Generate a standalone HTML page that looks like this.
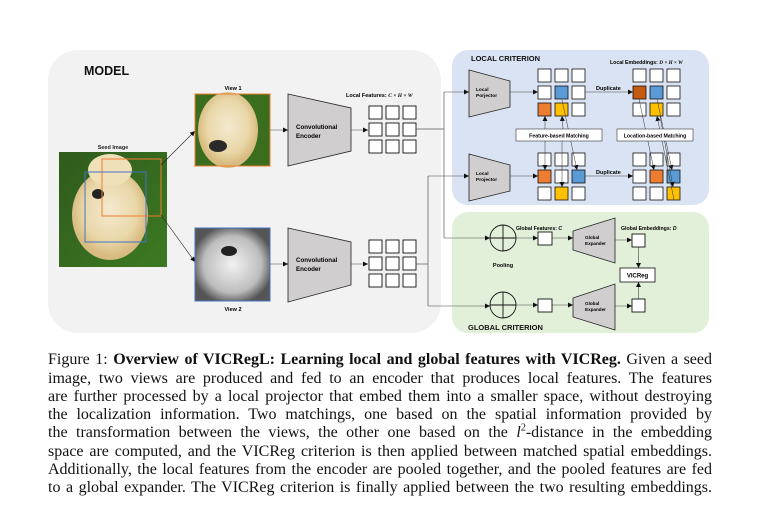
<!DOCTYPE html>
<html><head><meta charset="utf-8"><style>
body{margin:0;background:#fff;width:759px;height:512px;overflow:hidden;position:relative;font-family:"Liberation Sans",sans-serif}
svg{position:absolute;left:0;top:0}
.cap{position:absolute;left:48px;width:664px;font-family:"Liberation Serif",serif;font-size:16px;color:#111;text-align:justify;text-align-last:justify;white-space:nowrap;line-height:18px;height:18px}
.cap.nj{text-align-last:left}
</style></head><body>
<svg width="759" height="345" viewBox="0 0 759 345" font-family="Liberation Sans, sans-serif">
<defs>
<marker id="a" markerWidth="6" markerHeight="6" refX="5" refY="3" orient="auto" markerUnits="userSpaceOnUse"><path d="M0,0.5 L5,3 L0,5.5z" fill="#111"/></marker>
<linearGradient id="g1" x1="0" y1="0" x2="1" y2="1"><stop offset="0" stop-color="#2f5a1c"/><stop offset="1" stop-color="#3d7a22"/></linearGradient>
<radialGradient id="dog" cx="0.5" cy="0.45" r="0.5"><stop offset="0" stop-color="#f4ead0"/><stop offset="0.7" stop-color="#e9d7a8"/><stop offset="1" stop-color="#d8bb80"/></radialGradient>
<radialGradient id="dogg" cx="0.5" cy="0.5" r="0.55"><stop offset="0" stop-color="#f2f2f2"/><stop offset="0.7" stop-color="#bdbdbd"/><stop offset="1" stop-color="#555"/></radialGradient>
</defs>
<rect x="48" y="50" width="393" height="283" rx="30" fill="#f2f2f2"/>
<rect x="452" y="50" width="257" height="155" rx="16" fill="#dae3f3"/>
<rect x="452" y="212" width="257" height="121" rx="16" fill="#e2f0d9"/>
<text x="84" y="75" font-size="12.5" font-weight="bold" fill="#111">MODEL</text>
<text x="471" y="61" font-size="7.5" font-weight="bold" fill="#111">LOCAL CRITERION</text>
<text x="468" y="330" font-size="7.5" font-weight="bold" fill="#111">GLOBAL CRITERION</text>
<!-- seed image -->
<text x="113" y="149" font-size="5.5" font-weight="bold" text-anchor="middle" fill="#222">Seed Image</text>
<rect x="59" y="152" width="108" height="115" fill="url(#g1)"/>
<ellipse cx="110" cy="215" rx="38" ry="45" fill="url(#dog)"/>
<ellipse cx="110" cy="170" rx="22" ry="16" fill="#f0e0b8"/>
<ellipse cx="98" cy="194" rx="6" ry="5" fill="#222"/>
<rect x="102" y="159" width="59" height="57" fill="none" stroke="#ed7d31" stroke-width="1"/>
<rect x="85" y="172" width="61" height="70" fill="none" stroke="#4472c4" stroke-width="1"/>
<line x1="161" y1="165" x2="195" y2="131" stroke="#222" stroke-width="0.6" marker-end="url(#a)"/>
<line x1="161" y1="215" x2="195" y2="262" stroke="#222" stroke-width="0.6" marker-end="url(#a)"/>
<!-- views -->
<text x="233" y="90" font-size="5.5" font-weight="bold" text-anchor="middle">View 1</text>
<rect x="195" y="94" width="75" height="72" fill="#3b6d1f"/>
<ellipse cx="228" cy="130" rx="30" ry="38" fill="url(#dog)"/>
<ellipse cx="218" cy="146" rx="9" ry="6" fill="#2a2a2a"/>
<rect x="195" y="94" width="75" height="72" fill="none" stroke="#ed7d31" stroke-width="1"/>
<rect x="195" y="228" width="75" height="73" fill="url(#dogg)"/>
<ellipse cx="229" cy="251" rx="8" ry="5" fill="#222"/>
<rect x="195" y="228" width="75" height="73" fill="none" stroke="#4472c4" stroke-width="1"/>
<text x="233" y="311" font-size="5.5" font-weight="bold" text-anchor="middle">View 2</text>
<line x1="270" y1="130" x2="288" y2="130" stroke="#444" stroke-width="0.6" marker-end="url(#a)"/>
<line x1="270" y1="264" x2="288" y2="264" stroke="#444" stroke-width="0.6" marker-end="url(#a)"/>
<!-- encoders -->
<polygon points="288,94 351,108 351,151 288,166" fill="#d0cece" stroke="#222" stroke-width="0.8"/>
<text x="296" y="129" font-size="6.2" font-weight="bold">Convolutional</text><text x="296" y="138" font-size="6.2" font-weight="bold">Encoder</text>
<polygon points="288,228 351,242 351,285 288,302" fill="#d0cece" stroke="#222" stroke-width="0.8"/>
<text x="296" y="262" font-size="6.2" font-weight="bold">Convolutional</text><text x="296" y="271" font-size="6.2" font-weight="bold">Encoder</text>
<line x1="351" y1="130" x2="368" y2="130" stroke="#444" stroke-width="0.6" marker-end="url(#a)"/>
<line x1="351" y1="264" x2="368" y2="264" stroke="#444" stroke-width="0.6" marker-end="url(#a)"/>
<text x="346" y="97" font-size="5.5" font-weight="bold">Local Features: <tspan font-family="Liberation Serif" font-style="italic">C × H × W</tspan></text>
<g fill="#fff" stroke="#111" stroke-width="0.9">
<rect x="369" y="106" width="13" height="13"/><rect x="386" y="106" width="13" height="13"/><rect x="403" y="106" width="13" height="13"/>
<rect x="369" y="123" width="13" height="13"/><rect x="386" y="123" width="13" height="13"/><rect x="403" y="123" width="13" height="13"/>
<rect x="369" y="140" width="13" height="13"/><rect x="386" y="140" width="13" height="13"/><rect x="403" y="140" width="13" height="13"/>
<rect x="369" y="240" width="13" height="13"/><rect x="386" y="240" width="13" height="13"/><rect x="403" y="240" width="13" height="13"/>
<rect x="369" y="257" width="13" height="13"/><rect x="386" y="257" width="13" height="13"/><rect x="403" y="257" width="13" height="13"/>
<rect x="369" y="274" width="13" height="13"/><rect x="386" y="274" width="13" height="13"/><rect x="403" y="274" width="13" height="13"/>
</g>
<!-- connectors -->
<g fill="none" stroke="#555" stroke-width="0.7">
<polyline points="416,129 444,129"/><line x1="444" y1="92" x2="444" y2="238"/>
<polyline points="416,264 428,264"/><line x1="428" y1="176" x2="428" y2="306"/>
</g>
<g stroke="#444" stroke-width="0.6">
<line x1="444" y1="92" x2="469" y2="92" marker-end="url(#a)"/>
<line x1="444" y1="238" x2="490" y2="238" marker-end="url(#a)"/>
<line x1="428" y1="176" x2="469" y2="176" marker-end="url(#a)"/>
<line x1="428" y1="306" x2="490" y2="306" marker-end="url(#a)"/>
</g>
<!-- projectors -->
<polygon points="469,70 510,81 510,107 469,117" fill="#d0cece" stroke="#222" stroke-width="0.8"/>
<text x="476" y="91" font-size="4.8" font-weight="bold">Local</text><text x="476" y="97" font-size="4.8" font-weight="bold">Porjector</text>
<polygon points="469,154 510,165 510,191 469,201" fill="#d0cece" stroke="#222" stroke-width="0.8"/>
<text x="476" y="175" font-size="4.8" font-weight="bold">Local</text><text x="476" y="181" font-size="4.8" font-weight="bold">Projector</text>
<line x1="510" y1="92" x2="538" y2="92" stroke="#444" stroke-width="0.6" marker-end="url(#a)"/>
<line x1="510" y1="176" x2="538" y2="176" stroke="#444" stroke-width="0.6" marker-end="url(#a)"/>
<text x="610" y="64" font-size="5.2" font-weight="bold">Local Embeddings: <tspan font-family="Liberation Serif" font-style="italic">D × H × W</tspan></text>
<g stroke="#111" stroke-width="0.8">
<!-- grid A -->
<rect x="538" y="69" width="13" height="13" fill="#fff"/><rect x="555" y="69" width="13" height="13" fill="#fff"/><rect x="572" y="69" width="13" height="13" fill="#fff"/>
<rect x="538" y="86" width="13" height="13" fill="#fff"/><rect x="555" y="86" width="13" height="13" fill="#5b9bd5"/><rect x="572" y="86" width="13" height="13" fill="#fff"/>
<rect x="538" y="103" width="13" height="13" fill="#ed7d31"/><rect x="555" y="103" width="13" height="13" fill="#ffc000"/><rect x="572" y="103" width="13" height="13" fill="#fff"/>
<!-- grid B -->
<rect x="633" y="69" width="13" height="13" fill="#fff"/><rect x="650" y="69" width="13" height="13" fill="#fff"/><rect x="667" y="69" width="13" height="13" fill="#fff"/>
<rect x="633" y="86" width="13" height="13" fill="#c55a11"/><rect x="650" y="86" width="13" height="13" fill="#5b9bd5"/><rect x="667" y="86" width="13" height="13" fill="#fff"/>
<rect x="633" y="103" width="13" height="13" fill="#fff"/><rect x="650" y="103" width="13" height="13" fill="#ffc000"/><rect x="667" y="103" width="13" height="13" fill="#fff"/>
<!-- grid C -->
<rect x="538" y="153" width="13" height="13" fill="#fff"/><rect x="555" y="153" width="13" height="13" fill="#fff"/><rect x="572" y="153" width="13" height="13" fill="#fff"/>
<rect x="538" y="170" width="13" height="13" fill="#ed7d31"/><rect x="555" y="170" width="13" height="13" fill="#fff"/><rect x="572" y="170" width="13" height="13" fill="#5b9bd5"/>
<rect x="538" y="187" width="13" height="13" fill="#fff"/><rect x="555" y="187" width="13" height="13" fill="#ffc000"/><rect x="572" y="187" width="13" height="13" fill="#fff"/>
<!-- grid D -->
<rect x="633" y="153" width="13" height="13" fill="#fff"/><rect x="650" y="153" width="13" height="13" fill="#fff"/><rect x="667" y="153" width="13" height="13" fill="#fff"/>
<rect x="633" y="170" width="13" height="13" fill="#fff"/><rect x="650" y="170" width="13" height="13" fill="#ed7d31"/><rect x="667" y="170" width="13" height="13" fill="#5b9bd5"/>
<rect x="633" y="187" width="13" height="13" fill="#fff"/><rect x="650" y="187" width="13" height="13" fill="#fff"/><rect x="667" y="187" width="13" height="13" fill="#ffc000"/>
</g>
<line x1="585" y1="92" x2="633" y2="92" stroke="#444" stroke-width="0.6" marker-end="url(#a)"/>
<line x1="585" y1="176" x2="633" y2="176" stroke="#444" stroke-width="0.6" marker-end="url(#a)"/>
<text x="596" y="90" font-size="5.5" font-weight="bold">Duplicate</text>
<text x="596" y="174" font-size="5.5" font-weight="bold">Duplicate</text>
<g stroke="#333" stroke-width="0.5" marker-end="url(#a)">
<line x1="545" y1="129" x2="545" y2="116"/><line x1="545" y1="141" x2="545" y2="170"/>
<line x1="562" y1="141" x2="562" y2="187"/><line x1="563" y1="129" x2="562" y2="116"/>
<line x1="562" y1="100" x2="577" y2="170"/>
<line x1="639" y1="99" x2="654" y2="170"/><line x1="657" y1="99" x2="672" y2="170"/>
<line x1="660" y1="116" x2="673" y2="187"/><line x1="674" y1="200" x2="657" y2="116"/>
</g>
<rect x="516" y="129" width="86" height="12" fill="#fff" stroke="#333" stroke-width="0.6"/>
<text x="559" y="137.5" font-size="5.2" font-weight="bold" text-anchor="middle">Feature-based Matching</text>
<rect x="617" y="129" width="76" height="12" fill="#fff" stroke="#333" stroke-width="0.6"/>
<text x="655" y="137.5" font-size="5.2" font-weight="bold" text-anchor="middle">Location-based Matching</text>
<!-- global -->
<g fill="none" stroke="#111" stroke-width="0.9">
<circle cx="503" cy="238" r="13"/><line x1="490" y1="238" x2="516" y2="238"/><line x1="503" y1="225" x2="503" y2="251"/>
<circle cx="503" cy="305" r="13"/><line x1="490" y1="305" x2="516" y2="305"/><line x1="503" y1="292" x2="503" y2="318"/>
</g>
<text x="503" y="267" font-size="5.5" font-weight="bold" text-anchor="middle">Pooling</text>
<text x="516" y="230" font-size="5.2" font-weight="bold">Global Features: <tspan font-style="italic">C</tspan></text>
<text x="621" y="230" font-size="5.2" font-weight="bold">Global Embeddings: <tspan font-style="italic">D</tspan></text>
<g stroke="#444" stroke-width="0.6" marker-end="url(#a)">
<line x1="516" y1="238" x2="538" y2="238"/><line x1="516" y1="305" x2="538" y2="305"/>
<line x1="552" y1="238" x2="573" y2="238"/><line x1="552" y1="305" x2="573" y2="305"/>
<line x1="615" y1="240" x2="632" y2="240"/><line x1="615" y1="306" x2="632" y2="306"/>
<line x1="638.5" y1="247" x2="638.5" y2="268"/><line x1="638.5" y1="299" x2="638.5" y2="282"/>
</g>
<g fill="#fff" stroke="#111" stroke-width="0.9">
<rect x="538" y="232" width="14" height="13"/><rect x="538" y="299" width="14" height="13"/>
<rect x="632" y="234" width="13" height="13"/><rect x="632" y="299" width="13" height="13"/>
</g>
<polygon points="573,231 615,218 615,263 573,250" fill="#d0cece" stroke="#222" stroke-width="0.8"/>
<text x="585" y="239" font-size="4.6" font-weight="bold">Global</text><text x="585" y="245" font-size="4.6" font-weight="bold">Expander</text>
<polygon points="573,298 615,284 615,330 573,317" fill="#d0cece" stroke="#222" stroke-width="0.8"/>
<text x="585" y="305" font-size="4.6" font-weight="bold">Global</text><text x="585" y="311" font-size="4.6" font-weight="bold">Expander</text>
<rect x="620" y="268" width="35" height="14" fill="#fff" stroke="#111" stroke-width="0.8"/>
<text x="637.5" y="277.5" font-size="6" font-weight="bold" text-anchor="middle">VICReg</text>
</svg>
<div class="cap" style="top:351px">Figure 1: <b>Overview of VICRegL: Learning local and global features with VICReg.</b> Given a seed</div>
<div class="cap" style="top:370px">image, two views are produced and fed to an encoder that produces local features. The features</div>
<div class="cap" style="top:388px">are further processed by a local projector that embed them into a smaller space, without destroying</div>
<div class="cap" style="top:406px">the localization information. Two matchings, one based on the spatial information provided by</div>
<div class="cap" style="top:424px">the transformation between the views, the other one based on the <i>l</i><sup style="font-size:10px;line-height:0">2</sup>-distance in the embedding</div>
<div class="cap" style="top:443px">space are computed, and the VICReg criterion is then applied between matched spatial embeddings.</div>
<div class="cap" style="top:461px">Additionally, the local features from the encoder are pooled together, and the pooled features are fed</div>
<div class="cap" style="top:479px">to a global expander. The VICReg criterion is finally applied between the two resulting embeddings.</div>
</body></html>
